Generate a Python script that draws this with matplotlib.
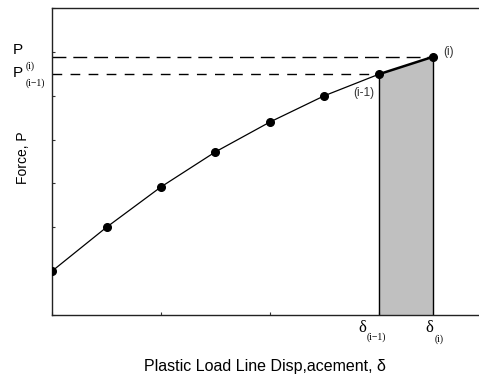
import numpy as np
import matplotlib
matplotlib.use("Agg")
import matplotlib.pyplot as plt

plt.rcParams['font.family'] = ['Liberation Sans', 'DejaVu Sans']

# plastic load line displacement (tick units) and force
disp = [0.0, 0.5, 1.0, 1.5, 2.0, 2.5, 3.0, 3.5]
force = [1.0, 2.0, 2.92, 3.72, 4.40, 5.0, 5.49, 5.89]

serif = ['Liberation Serif', 'DejaVu Serif']

fig = plt.figure(figsize=(4.79, 3.77), dpi=100)
ax = fig.add_axes([0.1086, 0.1645, 0.910, 0.8143])

d0, d1 = disp[-2], disp[-1]
p0, p1 = force[-2], force[-1]

# shaded increment of area
ax.fill_between([d0, d1], [p0, p1], 0, facecolor='#c0c0c0', edgecolor='none', zorder=1)
ax.plot([d0, d0], [0, p0], color='k', lw=1.0, zorder=2)
ax.plot([d1, d1], [0, p1], color='k', lw=1.0, zorder=2)

# dashed force levels
ax.plot([0, d1], [p1, p1], color='k', lw=1.0, dashes=(10, 5), zorder=2)
ax.plot([0, d0], [p0, p0], color='k', lw=1.0, dashes=(7, 6), zorder=2)

ax.plot(disp[:-1], force[:-1], color='k', lw=0.9, zorder=3)
ax.plot([d0, d1], [p0, p1], color='k', lw=1.8, zorder=3)
ax.plot(disp, force, 'o', color='k', ms=5.5, zorder=4)

ax.text(d0 - 0.14, p0 - 0.43, '(i-1)', fontsize=8.5, color='#333333', ha='center', va='center')
ax.text(d1 + 0.135, p1 + 0.11, '(i)', fontsize=8.5, color='#333333', ha='center', va='center')

# P labels on the force axis
ax.text(-0.266, p1 + 0.15, 'P', fontsize=11, ha='right', va='center', clip_on=False)
ax.text(-0.239, p1 - 0.21, '(i)', fontsize=7, family=serif, ha='left', va='center', clip_on=False)
ax.text(-0.266, p0 + 0.02, 'P', fontsize=11, ha='right', va='center', clip_on=False)
ax.text(-0.239, p0 - 0.20, '(i\u22121)', fontsize=7, family=serif, ha='left', va='center', clip_on=False)

# delta labels on the displacement axis
ax.text(d0 - 0.12, -0.30, '\u03b4', fontsize=12, family=serif, ha='right', va='center', clip_on=False)
ax.text(d0 - 0.11, -0.51, '(i\u22121)', fontsize=7, family=serif, ha='left', va='center', clip_on=False)
ax.text(d1, -0.30, '\u03b4', fontsize=12, family=serif, ha='right', va='center', clip_on=False)
ax.text(d1 + 0.01, -0.55, '(i)', fontsize=7, family=serif, ha='left', va='center', clip_on=False)

ax.set_xlim(0, 4)
ax.set_ylim(0, 7)
ax.set_xticks(np.arange(0, 5, 1))
ax.set_yticks(np.arange(0, 8, 1))
ax.set_xticklabels([])
ax.set_yticklabels([])
ax.tick_params(direction='in', length=2.5, width=0.8, color='#333333')
for s in ax.spines.values():
    s.set_linewidth(1.0)
    s.set_color('#222222')

ax.set_xlabel('Plastic Load Line Disp,acement, \u03b4', fontsize=11.5)
ax.xaxis.set_label_coords(0.4885, -0.143)
ax.set_ylabel('Force, P', fontsize=10)
ax.yaxis.set_label_coords(-0.050, 0.513)

fig.savefig('out.png', dpi=100)
